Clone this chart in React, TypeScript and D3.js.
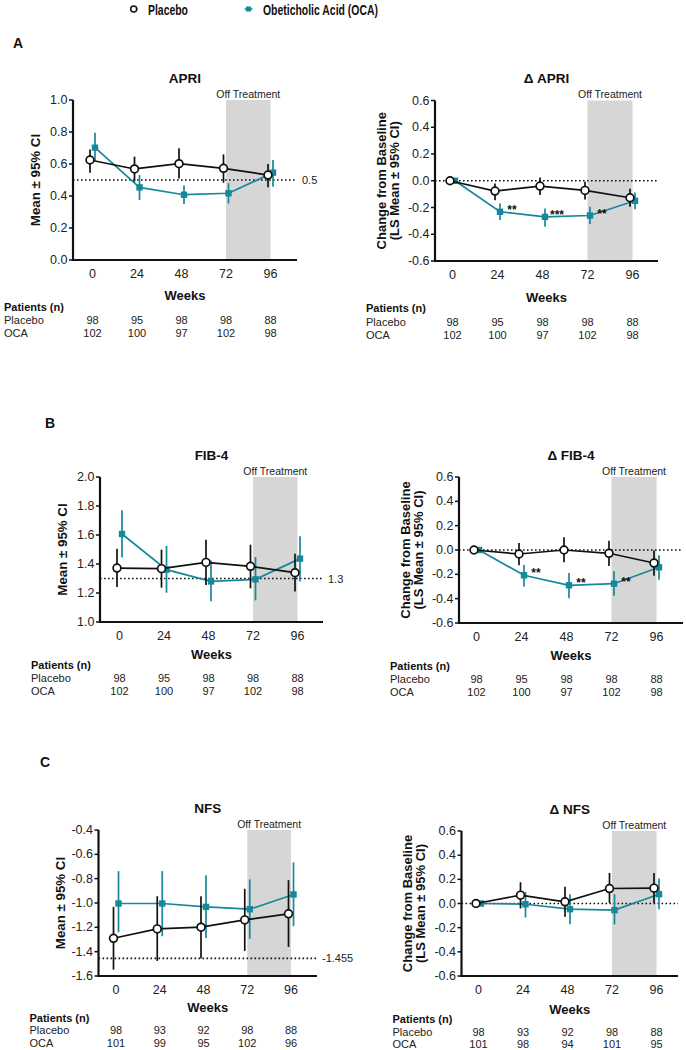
import React from "react";
import * as d3 from "d3";

// ---------- DATA ----------
const weeks = [0, 24, 48, 72, 96];
const seriesNames = ["Placebo", "Obeticholic Acid (OCA)"];

// APRI (mean ± 95% CI)
const apriPlaceboMean = [0.625, 0.569, 0.602, 0.573, 0.531];
const apriPlaceboLo = [0.546, 0.49, 0.51, 0.483, 0.454];
const apriPlaceboHi = [0.69, 0.646, 0.698, 0.66, 0.6];
const apriOcaMean = [0.702, 0.454, 0.408, 0.417, 0.546];
const apriOcaLo = [0.62, 0.375, 0.35, 0.354, 0.458];
const apriOcaHi = [0.796, 0.531, 0.465, 0.48, 0.625];

// Δ APRI (LS mean ± 95% CI)
const dApriPlaceboMean = [0, -0.077, -0.04, -0.072, -0.127];
const dApriPlaceboLo = [0, -0.145, -0.107, -0.14, -0.195];
const dApriPlaceboHi = [0, -0.02, 0.025, -0.007, -0.06];
const dApriOcaMean = [0, -0.232, -0.27, -0.26, -0.15];
const dApriOcaLo = [0, -0.294, -0.344, -0.324, -0.214];
const dApriOcaHi = [0, -0.17, -0.207, -0.195, -0.087];
const dApriStars = ["", "**", "***", "**", ""];

// FIB-4
const fibPlaceboMean = [1.372, 1.368, 1.411, 1.384, 1.34];
const fibPlaceboLo = [1.241, 1.237, 1.255, 1.232, 1.211];
const fibPlaceboHi = [1.506, 1.499, 1.568, 1.533, 1.471];
const fibOcaMean = [1.607, 1.361, 1.28, 1.294, 1.437];
const fibOcaLo = [1.444, 1.202, 1.143, 1.149, 1.28];
const fibOcaHi = [1.77, 1.524, 1.425, 1.448, 1.591];

// Δ FIB-4
const dFibPlaceboMean = [0, -0.033, 0.0, -0.027, -0.107];
const dFibPlaceboLo = [0, -0.126, -0.101, -0.131, -0.211];
const dFibPlaceboHi = [0, 0.058, 0.104, 0.077, -0.005];
const dFibOcaMean = [0, -0.208, -0.29, -0.277, -0.142];
const dFibOcaLo = [0, -0.299, -0.397, -0.375, -0.244];
const dFibOcaHi = [0, -0.123, -0.189, -0.175, -0.044];
const dFibStars = ["", "**", "**", "**", ""];

// NFS
const nfsPlaceboMean = [-1.29, -1.213, -1.199, -1.139, -1.089];
const nfsPlaceboLo = [-1.548, -1.476, -1.457, -1.394, -1.361];
const nfsPlaceboHi = [-1.032, -0.944, -0.944, -0.883, -0.812];
const nfsOcaMean = [-1.004, -1.004, -1.032, -1.051, -0.93];
const nfsOcaLo = [-1.24, -1.273, -1.287, -1.295, -1.191];
const nfsOcaHi = [-0.738, -0.738, -0.771, -0.806, -0.666];

// Δ NFS
const dNfsPlaceboMean = [0, 0.069, 0.014, 0.124, 0.127];
const dNfsPlaceboLo = [0, -0.041, -0.11, 0.005, 0.005];
const dNfsPlaceboHi = [0, 0.176, 0.138, 0.253, 0.253];
const dNfsOcaMean = [0, -0.006, -0.047, -0.055, 0.077];
const dNfsOcaLo = [0, -0.116, -0.171, -0.173, -0.047];
const dNfsOcaHi = [0, 0.096, 0.077, 0.077, 0.206];

// Patients (n)
const nPlaceboAB = [98, 95, 98, 98, 88];
const nOcaAB = [102, 100, 97, 102, 98];
const nPlaceboC = [98, 93, 92, 98, 88];
const nOcaNfs = [101, 99, 95, 102, 96];
const nOcaDNfs = [101, 98, 94, 101, 95];

// Y tick values
const ticksApri = [0, 0.2, 0.4, 0.6, 0.8, 1.0];
const ticksDelta = [-0.6, -0.4, -0.2, 0, 0.2, 0.4, 0.6];
const ticksFib = [1.0, 1.2, 1.4, 1.6, 1.8, 2.0];
const ticksNfs = [-1.6, -1.4, -1.2, -1.0, -0.8, -0.6, -0.4];

// ---------- STYLE ----------
const TEAL = "#17889a";
const SHADE = "#d6d6d6";
const FONT = "'Liberation Sans', Arial, Helvetica, sans-serif";

type PanelDef = {
  title: string;
  yLabel: string[];
  domain: [number, number];
  ticks: number[];
  refValue: number;
  refLabel?: string;
  placebo: [number[], number[], number[]];
  oca: [number[], number[], number[]];
  stars?: string[];
  nPlacebo: number[];
  nOca: number[];
  axisX: number;
  x0: number;
  x96: number;
  axisEnd: number;
  yTop: number;
  yBot: number;
  weeksDy: number;
  tableDy: number;
  rowGap: number;
};

const panels: PanelDef[] = [
  {
    title: "APRI", yLabel: ["Mean ± 95% CI"], domain: [0, 1], ticks: ticksApri,
    refValue: 0.5, refLabel: "0.5",
    placebo: [apriPlaceboMean, apriPlaceboLo, apriPlaceboHi],
    oca: [apriOcaMean, apriOcaLo, apriOcaHi],
    nPlacebo: nPlaceboAB, nOca: nOcaAB,
    axisX: 73, x0: 92.5, x96: 270.5, axisEnd: 297, yTop: 100, yBot: 260,
    weeksDy: 35.5, tableDy: 47, rowGap: 13,
  },
  {
    title: "Δ APRI", yLabel: ["Change from Baseline", "(LS Mean ± 95% CI)"], domain: [-0.6, 0.6], ticks: ticksDelta,
    refValue: 0,
    placebo: [dApriPlaceboMean, dApriPlaceboLo, dApriPlaceboHi],
    oca: [dApriOcaMean, dApriOcaLo, dApriOcaHi], stars: dApriStars,
    nPlacebo: nPlaceboAB, nOca: nOcaAB,
    axisX: 435, x0: 452.5, x96: 632.5, axisEnd: 658, yTop: 100.5, yBot: 261,
    weeksDy: 36, tableDy: 47, rowGap: 13.5,
  },
  {
    title: "FIB-4", yLabel: ["Mean ± 95% CI"], domain: [1, 2], ticks: ticksFib,
    refValue: 1.3, refLabel: "1.3",
    placebo: [fibPlaceboMean, fibPlaceboLo, fibPlaceboHi],
    oca: [fibOcaMean, fibOcaLo, fibOcaHi],
    nPlacebo: nPlaceboAB, nOca: nOcaAB,
    axisX: 100, x0: 119.5, x96: 297.5, axisEnd: 323, yTop: 477, yBot: 622,
    weeksDy: 32, tableDy: 42.5, rowGap: 13,
  },
  {
    title: "Δ FIB-4", yLabel: ["Change from Baseline", "(LS Mean ± 95% CI)"], domain: [-0.6, 0.6], ticks: ticksDelta,
    refValue: 0,
    placebo: [dFibPlaceboMean, dFibPlaceboLo, dFibPlaceboHi],
    oca: [dFibOcaMean, dFibOcaLo, dFibOcaHi], stars: dFibStars,
    nPlacebo: nPlaceboAB, nOca: nOcaAB,
    axisX: 459, x0: 476.5, x96: 656.5, axisEnd: 683, yTop: 477, yBot: 623,
    weeksDy: 32, tableDy: 42.5, rowGap: 13,
  },
  {
    title: "NFS", yLabel: ["Mean ± 95% CI"], domain: [-1.6, -0.4], ticks: ticksNfs,
    refValue: -1.455, refLabel: "-1.455",
    placebo: [nfsPlaceboMean, nfsPlaceboLo, nfsPlaceboHi],
    oca: [nfsOcaMean, nfsOcaLo, nfsOcaHi],
    nPlacebo: nPlaceboC, nOca: nOcaNfs,
    axisX: 98.5, x0: 116, x96: 291, axisEnd: 317, yTop: 830, yBot: 976,
    weeksDy: 31, tableDy: 41.5, rowGap: 12.5,
  },
  {
    title: "Δ NFS", yLabel: ["Change from Baseline", "(LS Mean ± 95% CI)"], domain: [-0.6, 0.6], ticks: ticksDelta,
    refValue: 0,
    placebo: [dNfsPlaceboMean, dNfsPlaceboLo, dNfsPlaceboHi],
    oca: [dNfsOcaMean, dNfsOcaLo, dNfsOcaHi],
    nPlacebo: nPlaceboC, nOca: nOcaDNfs,
    axisX: 461.5, x0: 478.5, x96: 656.5, axisEnd: 678, yTop: 831, yBot: 976,
    weeksDy: 33, tableDy: 43, rowGap: 12.5,
  },
];

const panelLetters = [
  { label: "A", x: 13, y: 43 },
  { label: "B", x: 45, y: 423 },
  { label: "C", x: 40, y: 762 },
];

const fmt = (v: number) => d3.format(".1f")(v).replace("−", "-");

const OFF_P = -2.5;
const OFF_O = 2.5;

function Panel({ p }: { p: PanelDef }) {
  const x = d3.scaleLinear().domain([0, 96]).range([p.x0, p.x96]);
  const y = d3.scaleLinear().domain(p.domain).range([p.yBot, p.yTop]);
  const mkLine = (vals: number[], off: number) =>
    d3.line<number>().x((_, i) => x(weeks[i]) + off).y((d) => y(d))(vals) || "";
  const mid = (p.axisX + p.axisEnd) / 2;
  const yMid = (p.yTop + p.yBot) / 2;
  return (
    <g>
      {/* shade */}
      <rect x={x(72)} y={p.yTop} width={x(96) - x(72)} height={p.yBot - p.yTop} fill={SHADE} />
      <text x={(x(72) + x(96)) / 2} y={p.yTop - 6.5} fontSize={10.5} textAnchor="middle" dominantBaseline="central" fill="#222">Off Treatment</text>
      {/* title */}
      <text x={mid} y={p.yTop - 22} fontSize={13.5} fontWeight="bold" textAnchor="middle" dominantBaseline="central" fill="#111">{p.title}</text>
      {/* reference line */}
      <line x1={p.axisX} x2={p.axisEnd} y1={y(p.refValue)} y2={y(p.refValue)} stroke="#111" strokeWidth={1.6} strokeDasharray="1.6,2.4" />
      {p.refLabel && (
        <text x={p.axisEnd + 5} y={y(p.refValue)} fontSize={11} dominantBaseline="central" fill="#222">{p.refLabel}</text>
      )}
      {/* axes */}
      <line x1={p.axisX} x2={p.axisX} y1={p.yTop} y2={p.yBot + 1} stroke="#111" strokeWidth={2.2} />
      <line x1={p.axisX - 1} x2={p.axisEnd} y1={p.yBot} y2={p.yBot} stroke="#111" strokeWidth={2.2} />
      {p.ticks.map((t) => (
        <g key={t}>
          <line x1={p.axisX - 4} x2={p.axisX} y1={y(t)} y2={y(t)} stroke="#111" strokeWidth={1.5} />
          <text x={p.axisX - 5.5} y={y(t)} fontSize={12.5} textAnchor="end" dominantBaseline="central" fill="#222">{fmt(t)}</text>
        </g>
      ))}
      {weeks.map((w) => (
        <text key={w} x={x(w)} y={p.yBot + 13.5} fontSize={12.5} textAnchor="middle" dominantBaseline="central" fill="#222">{w}</text>
      ))}
      <text x={mid} y={p.yBot + p.weeksDy} fontSize={13} fontWeight="bold" textAnchor="middle" dominantBaseline="central" fill="#111">Weeks</text>
      {/* y label */}
      {p.yLabel.length === 1 ? (
        <text transform={`translate(${p.axisX - 38},${yMid}) rotate(-90)`} fontSize={13.3} fontWeight="bold" textAnchor="middle" dominantBaseline="central" fill="#111">{p.yLabel[0]}</text>
      ) : (
        p.yLabel.map((l, i) => (
          <text key={i} transform={`translate(${p.axisX - 54 + i * 13},${yMid}) rotate(-90)`} fontSize={13} fontWeight="bold" textAnchor="middle" dominantBaseline="central" fill="#111">{l}</text>
        ))
      )}
      {/* OCA series */}
      <path d={mkLine(p.oca[0], OFF_O)} fill="none" stroke={TEAL} strokeWidth={1.7} />
      {p.oca[0].map((v, i) => (
        <g key={i}>
          <line x1={x(weeks[i]) + OFF_O} x2={x(weeks[i]) + OFF_O} y1={y(p.oca[1][i])} y2={y(p.oca[2][i])} stroke={TEAL} strokeWidth={1.7} />
          <rect x={x(weeks[i]) + OFF_O - 3.2} y={y(v) - 3.2} width={6.4} height={6.4} fill={TEAL} />
        </g>
      ))}
      {/* Placebo series */}
      <path d={mkLine(p.placebo[0], OFF_P)} fill="none" stroke="#111" strokeWidth={1.7} />
      {p.placebo[0].map((v, i) => (
        <g key={i}>
          <line x1={x(weeks[i]) + OFF_P} x2={x(weeks[i]) + OFF_P} y1={y(p.placebo[1][i])} y2={y(p.placebo[2][i])} stroke="#111" strokeWidth={1.7} />
          <circle cx={x(weeks[i]) + OFF_P} cy={y(v)} r={3.9} fill="#fff" stroke="#111" strokeWidth={1.7} />
        </g>
      ))}
      {/* significance */}
      {p.stars && p.stars.map((s, i) => s ? (
        <text key={i} x={x(weeks[i]) + OFF_O + 12} y={y(p.oca[0][i]) - 2} fontSize={12} fontWeight="bold" textAnchor="middle" dominantBaseline="central" fill="#111">{s}</text>
      ) : null)}
      {/* patients table */}
      <text x={p.axisX - 69} y={p.yBot + p.tableDy} fontSize={11} fontWeight="bold" dominantBaseline="central" fill="#111">Patients (n)</text>
      <text x={p.axisX - 69} y={p.yBot + p.tableDy + p.rowGap} fontSize={11} dominantBaseline="central" fill="#222">Placebo</text>
      <text x={p.axisX - 69} y={p.yBot + p.tableDy + 2 * p.rowGap} fontSize={11} dominantBaseline="central" fill="#222">OCA</text>
      {weeks.map((w, i) => (
        <g key={w}>
          <text x={x(w)} y={p.yBot + p.tableDy + p.rowGap} fontSize={11} textAnchor="middle" dominantBaseline="central" fill="#222">{p.nPlacebo[i]}</text>
          <text x={x(w)} y={p.yBot + p.tableDy + 2 * p.rowGap} fontSize={11} textAnchor="middle" dominantBaseline="central" fill="#222">{p.nOca[i]}</text>
        </g>
      ))}
    </g>
  );
}

export default function App() {
  return (
    <svg width={686} height={1050} viewBox="0 0 686 1050" style={{ position: "absolute", left: 0, top: 0, background: "#fff" }} fontFamily={FONT}>
      <rect width={686} height={1050} fill="#fff" />
      {/* legend */}
      <g>
        <line x1={130} x2={137.5} y1={9} y2={9} stroke="#111" strokeWidth={1.5} />
        <circle cx={133.7} cy={9} r={3} fill="#fff" stroke="#111" strokeWidth={1.5} />
        <text x={148} y={9.5} fontSize={14} fontWeight="bold" textLength={40} lengthAdjust="spacingAndGlyphs" dominantBaseline="central" fill="#111">{seriesNames[0]}</text>
        <line x1={244.5} x2={252.5} y1={9} y2={9} stroke={TEAL} strokeWidth={1.5} />
        <rect x={246} y={6.5} width={5} height={5} fill={TEAL} />
        <text x={263} y={9.5} fontSize={14} fontWeight="bold" textLength={115} lengthAdjust="spacingAndGlyphs" dominantBaseline="central" fill="#111">{seriesNames[1]}</text>
      </g>
      {panelLetters.map((l) => (
        <text key={l.label} x={l.x} y={l.y} fontSize={14} fontWeight="bold" dominantBaseline="central" fill="#111">{l.label}</text>
      ))}
      {panels.map((p, i) => (
        <Panel key={i} p={p} />
      ))}
    </svg>
  );
}
